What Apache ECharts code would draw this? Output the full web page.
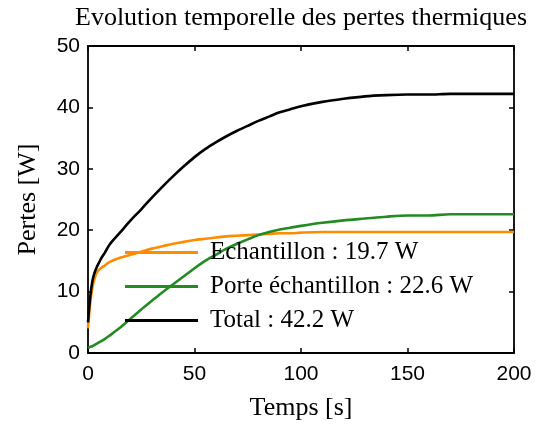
<!DOCTYPE html>
<html>
<head>
<meta charset="utf-8">
<script src="https://cdn.jsdelivr.net/npm/echarts@6/dist/echarts.min.js"></script>
<style>
  html, body { margin: 0; padding: 0; background: #fff; }
  #chart { width: 538px; height: 426px; }
</style>
</head>
<body>
<div id="chart"></div>
<script>
// Time samples [s]
const temps = [0, 1, 2, 3, 4, 5, 6, 8, 10, 15, 20, 25, 30, 35, 40, 45, 50, 55, 60, 65, 70, 75, 80, 85, 90, 95, 100, 110, 120, 130, 140, 150, 160, 170, 180, 190, 200];

// Heat losses [W]
const echantillon = [4.0, 8.0, 10.5, 12.0, 13.0, 13.5, 13.8, 14.3, 14.8, 15.5, 16.0, 16.5, 17.0, 17.4, 17.8, 18.1, 18.4, 18.6, 18.8, 19.0, 19.1, 19.2, 19.3, 19.4, 19.5, 19.5, 19.6, 19.7, 19.7, 19.7, 19.7, 19.7, 19.7, 19.7, 19.7, 19.7, 19.7];
const porteEchantillon = [0.8, 1.0, 1.1, 1.3, 1.5, 1.7, 1.9, 2.3, 2.8, 4.1, 5.6, 7.1, 8.5, 9.9, 11.2, 12.5, 13.8, 15.0, 16.0, 17.0, 17.8, 18.5, 19.2, 19.7, 20.1, 20.4, 20.7, 21.2, 21.6, 21.9, 22.2, 22.4, 22.4, 22.6, 22.6, 22.6, 22.6];
const total = [5.0, 9.0, 11.6, 13.0, 13.9, 14.6, 15.3, 16.4, 17.6, 19.6, 21.6, 23.4, 25.3, 27.1, 28.8, 30.4, 31.9, 33.2, 34.3, 35.3, 36.2, 37.0, 37.8, 38.5, 39.2, 39.7, 40.2, 40.9, 41.4, 41.8, 42.0, 42.1, 42.1, 42.2, 42.2, 42.2, 42.2];

const seriesNames = ['Echantillon : 19.7 W', 'Porte échantillon : 22.6 W', 'Total : 42.2 W'];
const seriesColors = ['#ff8c00', '#228b22', '#000000'];
const seriesValues = [echantillon, porteEchantillon, total];

const xTicks = { min: 0, max: 200, interval: 50 };
const yTicks = { min: 0, max: 50, interval: 10 };

const serif = '"Liberation Serif", "Times New Roman", serif';
const sans = '"Liberation Sans", Arial, sans-serif';

const chart = echarts.init(document.getElementById('chart'), null, { renderer: 'canvas' });

// Shared style for the four sides of the plot box
const boxAxis = {
  axisLine: { show: true, onZero: false, lineStyle: { color: '#000', width: 1.8 } },
  axisTick: { show: true, inside: true, length: 5, lineStyle: { color: '#000', width: 1.5 } },
  splitLine: { show: false }
};

chart.setOption({
  animation: false,
  backgroundColor: '#fff',
  title: {
    text: 'Evolution temporelle des pertes thermiques',
    left: 301,
    top: 5,
    textAlign: 'center',
    padding: 0,
    textStyle: { fontFamily: serif, fontSize: 26, fontWeight: 'normal', color: '#000' }
  },
  grid: { left: 88, right: 24, top: 46, bottom: 73, containLabel: false },
  legend: {
    orient: 'vertical',
    left: 125,
    top: 240,
    padding: 0,
    itemWidth: 73,
    itemHeight: 14,
    itemGap: 9,
    icon: 'path://M0,5.5 L73,5.5 L73,8.5 L0,8.5 Z',
    textStyle: { fontFamily: serif, fontSize: 25, color: '#000', padding: [0, 0, 0, 7] },
    data: seriesNames
  },
  xAxis: [
    Object.assign({
      type: 'value', position: 'bottom',
      min: xTicks.min, max: xTicks.max, interval: xTicks.interval,
      name: 'Temps [s]', nameLocation: 'middle', nameGap: 42,
      nameTextStyle: { fontFamily: serif, fontSize: 26, color: '#000' },
      axisLabel: { fontFamily: sans, fontSize: 21, color: '#000', margin: 11 }
    }, boxAxis),
    Object.assign({
      type: 'value', position: 'top',
      min: xTicks.min, max: xTicks.max, interval: xTicks.interval,
      axisLabel: { show: false }
    }, boxAxis)
  ],
  yAxis: [
    Object.assign({
      type: 'value', position: 'left',
      min: yTicks.min, max: yTicks.max, interval: yTicks.interval,
      name: 'Pertes [W]', nameLocation: 'middle', nameGap: 47,
      nameTextStyle: { fontFamily: serif, fontSize: 26, color: '#000' },
      axisLabel: { fontFamily: sans, fontSize: 21, color: '#000', margin: 8 }
    }, boxAxis),
    Object.assign({
      type: 'value', position: 'right',
      min: yTicks.min, max: yTicks.max, interval: yTicks.interval,
      axisLabel: { show: false }
    }, boxAxis)
  ],
  series: seriesNames.map((name, i) => ({
    name: name,
    type: 'line',
    xAxisIndex: 0,
    yAxisIndex: 0,
    symbol: 'none',
    smooth: 0.3,
    color: seriesColors[i],
    lineStyle: { color: seriesColors[i], width: 2.6 },
    data: temps.map((t, k) => [t, seriesValues[i][k]])
  }))
});
</script>
</body>
</html>
